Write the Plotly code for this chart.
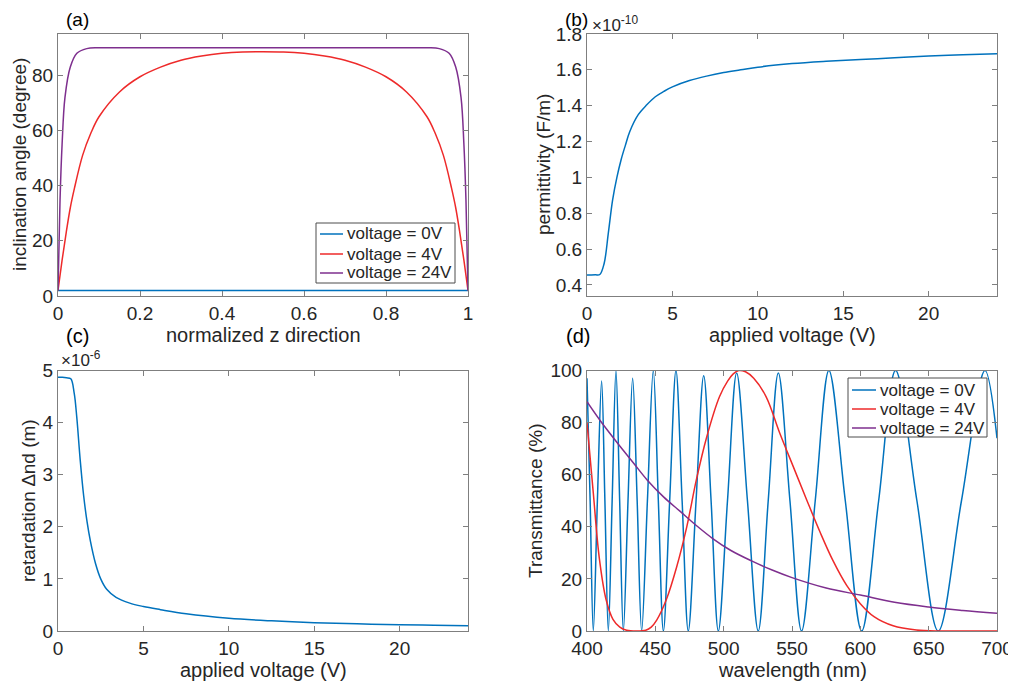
import plotly.graph_objects as go

# colours (MATLAB-like)
BLUE = "#0072BD"
RED = "#ee2a2a"
PURPLE = "#7E2F8E"
AXIS = "#7f7f7f"
TEXT = "#262626"
FONT = "Liberation Sans, Arial, sans-serif"

# the page body has an 8px margin, so the figure is 8px smaller than the window
OFF = 8
W, H = 1016 - OFF, 688 - OFF

# (a) inclination angle vs normalized z
z_0v = [0.0, 0.5, 1.0]
angle_0v = [2.0, 2.0, 2.0]

z_4v = [0.0, 0.01, 0.02, 0.03, 0.04, 0.06, 0.08, 0.10, 0.15, 0.20, 0.25, 0.30, 0.35, 0.40, 0.45,
        0.50, 0.55, 0.60, 0.65, 0.70, 0.75, 0.80, 0.85, 0.90, 0.92, 0.94, 0.96, 0.97, 0.98, 0.99, 1.0]
angle_4v = [2, 13, 23, 32, 39, 51, 59, 65, 74, 79.5, 83, 85.5, 87, 88, 88.5,
            88.6, 88.5, 88, 87, 85.5, 83, 79.5, 74, 65, 59, 51, 39, 32, 23, 13, 2]

z_24v = [0.0, 0.005, 0.01, 0.017, 0.03, 0.046, 0.07, 0.10, 0.2, 0.3, 0.4, 0.5,
         0.6, 0.7, 0.8, 0.90, 0.93, 0.954, 0.97, 0.983, 0.99, 0.995, 1.0]
angle_24v = [2, 35, 55, 72, 83, 88, 89.7, 90, 90, 90, 90, 90,
             90, 90, 90, 90, 89.7, 88, 83, 72, 55, 35, 2]

# (b) permittivity (x1e-10 F/m) vs applied voltage
voltage_b = [0, 0.25, 0.5, 0.75, 1.0, 1.25, 1.5, 1.75, 2.0, 2.25, 2.5, 3.0, 3.5, 4.0, 4.5,
             5, 6, 7, 8, 9, 10, 12, 14, 16, 18, 20, 22, 24]
permittivity = [0.455, 0.455, 0.456, 0.458, 0.518, 0.69, 0.875, 1.0, 1.1, 1.18, 1.255, 1.35, 1.405,
                1.45, 1.48, 1.505, 1.54, 1.565, 1.585, 1.60, 1.615, 1.635, 1.648, 1.658, 1.667,
                1.677, 1.684, 1.690]

# (c) retardation (x1e-6 m) vs applied voltage
voltage_c = [0, 0.25, 0.5, 0.75, 0.95, 1.1, 1.3, 1.5, 1.7, 1.9, 2.2, 2.5, 2.85, 3.4, 4.2,
             5, 6, 7.5, 10, 12.5, 15, 17.5, 20, 22, 24]
retardation = [4.87, 4.87, 4.86, 4.84, 4.56, 4.1, 3.28, 2.6, 2.1, 1.72, 1.29, 1.0, 0.80, 0.645, 0.535,
               0.47, 0.41, 0.33, 0.245, 0.195, 0.16, 0.137, 0.12, 0.11, 0.10]

# (d) transmittance vs wavelength
wl_0v = [400, 402.3, 404.6, 407.6, 410.7, 413.1, 415.6, 418.4, 421.2, 423.9, 426.6, 430, 433.4,
         436.7, 440, 444.2, 448.5, 452.2, 455.9, 460.5, 465.1, 469.6, 474.1, 479.8, 485.4,
         490.8, 496.1, 502.8, 509.5, 517.4, 525.3, 532.6, 540, 548.5, 557, 567, 577, 589, 601,
         613.4, 625.8, 641.4, 657, 674, 691.2, 700]
trans_0v = [97, 50, 0, 50, 96, 50, 0, 50, 100, 50, 0, 50, 97,
            50, 0, 50, 100, 50, 0, 50, 100, 50, 0, 50, 98,
            50, 0, 50, 99, 50, 0, 50, 99, 50, 0, 50, 100, 50, 0,
            50, 100, 50, 0, 50, 100, 74]

wl_4v = [400, 404.6, 409, 414, 419, 424, 429, 436, 443, 447, 451, 458, 465.6, 473, 480, 487.6,
         497, 503, 507, 511, 516, 522, 531, 541, 551, 561, 570.5, 580, 590, 600, 610, 624,
         641, 658, 680, 700]
trans_4v = [80, 53, 28, 12, 4.5, 1.5, 0.3, 0, 0.3, 1.5, 4.2, 12, 24.6, 40, 58, 74.5,
            90, 96, 98.7, 100, 99.5, 97, 90, 76, 63, 50, 38, 27, 17.5, 10.5, 5.5, 2,
            0.4, 0, 0, 0]

wl_24v = [400, 410, 424, 434, 444, 456, 468, 480, 492, 505, 520, 535, 550, 575, 600, 625,
          650, 675, 700]
trans_24v = [88, 80.5, 71, 64.5, 58, 51.5, 46, 40.5, 35.5, 31, 27, 23.5, 20.5, 16.5, 13.8, 11,
             9.2, 7.9, 6.8]

legend_names = ["voltage = 0V", "voltage = 4V", "voltage = 24V"]
legend_colors = [BLUE, RED, PURPLE]


def px_x(p):
    return (p - OFF) / W


def px_y(p):
    return 1 - (p - OFF) / H


def line(x, y, color, xa, ya):
    return go.Scatter(
        x=x, y=y, mode="lines", showlegend=False, hoverinfo="x+y",
        line=dict(color=color, width=1.5, shape="spline", smoothing=1),
        xaxis=xa, yaxis=ya,
    )


fig = go.Figure()
fig.add_trace(line(z_0v, angle_0v, BLUE, "x", "y"))
fig.add_trace(line(z_4v, angle_4v, RED, "x", "y"))
fig.add_trace(line(z_24v, angle_24v, PURPLE, "x", "y"))
fig.add_trace(line(voltage_b, permittivity, BLUE, "x2", "y2"))
fig.add_trace(line(voltage_c, retardation, BLUE, "x3", "y3"))
fig.add_trace(line(wl_0v, trans_0v, BLUE, "x4", "y4"))
fig.add_trace(line(wl_4v, trans_4v, RED, "x4", "y4"))
fig.add_trace(line(wl_24v, trans_24v, PURPLE, "x4", "y4"))


def axis(domain, rng, tickvals, anchor, ticktext=None):
    return dict(
        domain=domain, range=rng, tickvals=tickvals, ticktext=ticktext, anchor=anchor,
        showline=True, linecolor=AXIS, linewidth=1, mirror="allticks",
        ticks="inside", ticklen=5, tickcolor=AXIS, tickwidth=1,
        tickfont=dict(size=19, color=TEXT, family=FONT),
        showgrid=False, zeroline=False, automargin=False, fixedrange=True,
    )


left = [px_x(58), px_x(468)]
right = [px_x(587), px_x(997)]
top = [px_y(296), px_y(34)]
bottom = [px_y(631), px_y(370.5)]

perm_ticks = [0.4, 0.6, 0.8, 1.0, 1.2, 1.4, 1.6, 1.8]
perm_text = ["0.4", "0.6", "0.8", "1", "1.2", "1.4", "1.6", "1.8"]

fig.update_layout(
    width=W, height=H,
    margin=dict(l=0, r=0, t=0, b=0),
    paper_bgcolor="white", plot_bgcolor="white",
    font=dict(family=FONT, color=TEXT),
    showlegend=False,
    xaxis=axis(left, [0, 1], [0, 0.2, 0.4, 0.6, 0.8, 1], "y"),
    yaxis=axis(top, [0, 95], [0, 20, 40, 60, 80], "x"),
    xaxis2=axis(right, [0, 24], [0, 5, 10, 15, 20], "y2"),
    yaxis2=axis(top, [0.338, 1.8], perm_ticks, "x2", perm_text),
    xaxis3=axis(left, [0, 24], [0, 5, 10, 15, 20], "y3"),
    yaxis3=axis(bottom, [0, 5], [0, 1, 2, 3, 4, 5], "x3"),
    xaxis4=axis(right, [400, 700], [400, 450, 500, 550, 600, 650, 700], "y4"),
    yaxis4=axis(bottom, [0, 100], [0, 20, 40, 60, 80, 100], "x4"),
)


# MATLAB-style legend boxes: (box x0, x1, y0, y1, sample x0, x1, text x, row ys)
legend_boxes = [
    (316, 455, 223, 283, 320, 343, 345, [234, 254, 273]),
    (848, 987, 378, 437, 852, 876, 878, [390, 409, 428]),
]
for bx0, bx1, by0, by1, lx0, lx1, tx, rows in legend_boxes:
    fig.add_shape(type="rect", xref="paper", yref="paper", layer="above",
                  x0=px_x(bx0), x1=px_x(bx1), y0=px_y(by1), y1=px_y(by0),
                  fillcolor="white", line=dict(color="#4d4d4d", width=1))
    for name, color, ry in zip(legend_names, legend_colors, rows):
        fig.add_shape(type="line", xref="paper", yref="paper", layer="above",
                      x0=px_x(lx0), x1=px_x(lx1), y0=px_y(ry), y1=px_y(ry),
                      line=dict(color=color, width=1.5))
        fig.add_annotation(text=name, x=px_x(tx), y=px_y(ry), xref="paper", yref="paper",
                           xanchor="left", yanchor="middle", showarrow=False,
                           font=dict(size=17, color=TEXT, family=FONT))

notes = [
    ("(a)", 77, 19, 0, 19, "center"),
    ("(b)", 576, 19, 0, 19, "center"),
    ("(c)", 77, 336, 0, 20, "center"),
    ("(d)", 578, 336, 0, 20, "center"),
    ("×10<sup>-10</sup>", 591, 24, 0, 17, "left"),
    ("×10<sup>-6</sup>", 60, 359, 0, 17, "left"),
    ("normalized z direction", 263, 335, 0, 20, "center"),
    ("applied voltage (V)", 792, 335, 0, 20, "center"),
    ("applied voltage (V)", 263, 670, 0, 20, "center"),
    ("wavelength (nm)", 792, 670, 0, 20, "center"),
    ("inclination angle (degree)", 19, 165, -90, 19, "center"),
    ("permittivity (F/m)", 543, 165, -90, 19, "center"),
    ("retardation ∆nd (m)", 28, 501, -90, 19, "center"),
    ("Transmittance (%)", 535, 501, -90, 19, "center"),
]
for text, x, y, angle, size, anchor in notes:
    fig.add_annotation(
        text=text, x=px_x(x), y=px_y(y), xref="paper", yref="paper",
        xanchor=anchor, yanchor="middle", textangle=angle, showarrow=False, borderpad=0,
        font=dict(size=size, color="black" if text.startswith("(") and len(text) == 3 else TEXT,
                  family=FONT),
    )

fig.write_html("out.html")
